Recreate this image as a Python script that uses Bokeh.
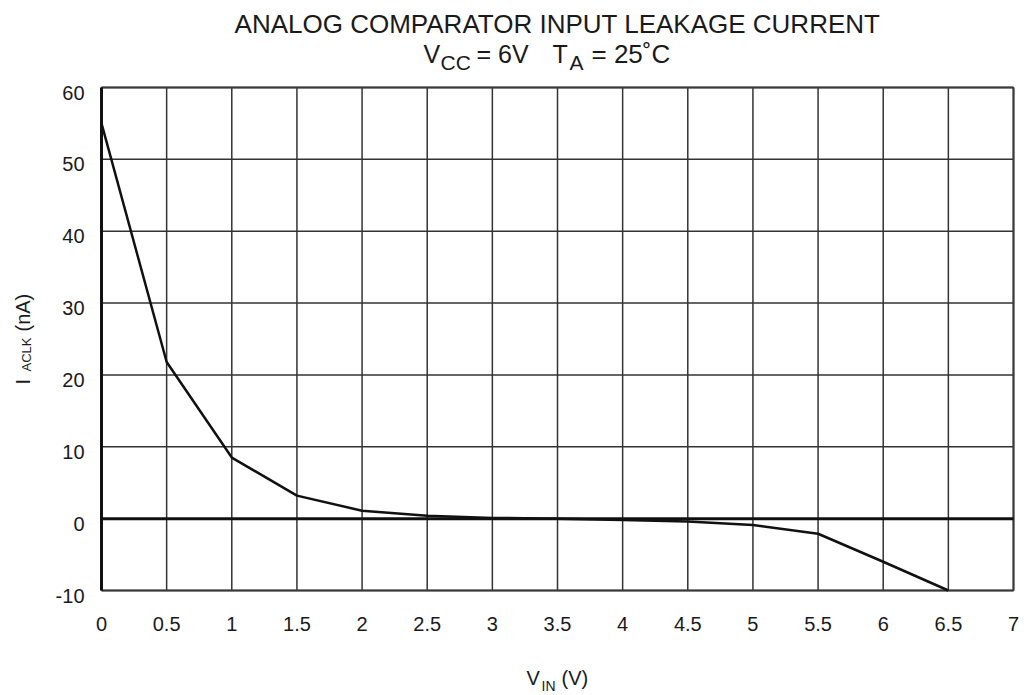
import math
from bokeh.plotting import figure
from bokeh.models import Range1d, Label
from bokeh.embed import file_html
from bokeh.resources import INLINE

# ---- data ----
vin = [0, 0.5, 1, 1.5, 2, 2.5, 3, 3.5, 4, 4.5, 5, 5.5, 6, 6.5]
iaclk = [55.0, 21.8, 8.5, 3.2, 1.1, 0.4, 0.1, 0.0, -0.2, -0.4, -0.9, -2.1, -6.0, -10.0]

x_ticks = [0, 0.5, 1, 1.5, 2, 2.5, 3, 3.5, 4, 4.5, 5, 5.5, 6, 6.5, 7]
x_tick_labels = ["0", "0.5", "1", "1.5", "2", "2.5", "3", "3.5", "4", "4.5", "5", "5.5", "6", "6.5", "7"]
y_ticks = [-10, 0, 10, 20, 30, 40, 50, 60]
y_tick_labels = ["-10", "0", "10", "20", "30", "40", "50", "60"]

title_line1 = "ANALOG COMPARATOR INPUT LEAKAGE CURRENT"

FONT = "Liberation Sans"
TXT = "#1a1a1a"
GRID = "#333333"

X0, X1 = 0, 7
Y0, Y1 = -10, 60

W, H = 1033, 695
# pixel position of the plotting area inside the page
PX_L, PX_R, PX_T, PX_B = 101, 1013, 87, 590


def fx(px):
    return X0 + (px - PX_L) * (X1 - X0) / (PX_R - PX_L)


def fy(py):
    return Y1 - (py - PX_T) * (Y1 - Y0) / (PX_B - PX_T)


def dpx_y(d):  # pixel distance -> data distance in y
    return d * (Y1 - Y0) / (PX_B - PX_T)


p = figure(width=W, height=H, output_backend="svg", toolbar_location=None,
           x_range=Range1d(fx(0), fx(W)), y_range=Range1d(fy(H), fy(0)),
           x_axis_location=None, y_axis_location=None, title_location=None,
           min_border=0, min_border_left=0, min_border_right=0,
           min_border_top=0, min_border_bottom=0,
           background_fill_color="white", border_fill_color="white")
p.title.visible = False
p.outline_line_color = None
p.grid.visible = False

# grid lines from the tick arrays
p.segment(x0=x_ticks, y0=[Y0] * len(x_ticks), x1=x_ticks, y1=[Y1] * len(x_ticks),
          line_color=GRID, line_width=1.5)
p.segment(x0=[X0] * len(y_ticks), y0=y_ticks, x1=[X1] * len(y_ticks), y1=y_ticks,
          line_color=GRID, line_width=1.5)
# frame: bottom/top/right slightly heavier, left axis line black and thick
p.segment(x0=[X0, X0, X1], y0=[Y0, Y1, Y0], x1=[X1, X1, X1], y1=[Y0, Y1, Y1],
          line_color="#3a3a3a", line_width=2)
p.segment(x0=[X0], y0=[Y0], x1=[X0], y1=[Y1], line_color="#111111", line_width=3)

# zero line
p.segment(x0=[X0], y0=[0], x1=[X1], y1=[0], line_color="#111111", line_width=3)

# curve
p.line(vin, iaclk, line_color="#111111", line_width=2.5)

# tick labels
p.text(x=x_ticks, y=[fy(623)] * len(x_ticks), text=x_tick_labels,
       text_font={"value": FONT}, text_font_size="20px", text_color=TXT,
       text_align="center", text_baseline="middle")
p.text(x=[fx(84)] * len(y_ticks), y=[t - dpx_y(5) for t in y_ticks], text=y_tick_labels,
       text_font={"value": FONT}, text_font_size="20px", text_color=TXT,
       text_align="right", text_baseline="middle")


def lab(text, px, py, size, align="left", angle=0.0):
    p.add_layout(Label(x=fx(px), y=fy(py), text=text, text_font=FONT,
                       text_font_size=size, text_color=TXT, text_align=align,
                       text_baseline="middle", angle=angle))


# title (py = visual centre of the capitals)
lab(title_line1, 557, 23.5, "26px", align="center")
lab("V", 423, 53.5, "25px")
lab("CC", 440, 61.5, "21px")
lab("= 6V", 476, 53.5, "25px")
lab("T", 552, 53.5, "25px")
lab("A", 569, 61.5, "21px")
lab("= 25˚C", 591, 53.5, "26px")

# x axis title
lab("V", 526, 677.5, "20px")
lab("IN", 541, 685, "14px")
lab("(V)", 561, 677.5, "20px")

# y axis title (rotated, px = visual centre across the text)
lab("I", 22.5, 384, "20px", angle=math.pi / 2)
lab("ACLK", 25.5, 371, "13px", angle=math.pi / 2)
lab("(nA)", 22.5, 331, "20px", angle=math.pi / 2)

open("out.html", "w").write(file_html(p, INLINE))
